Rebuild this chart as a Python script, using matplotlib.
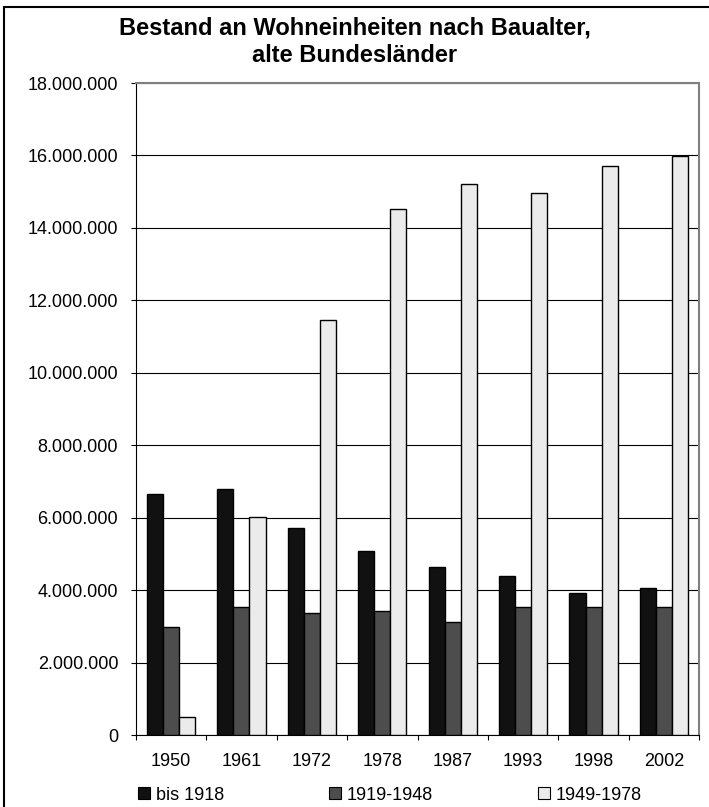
import matplotlib.pyplot as plt
import numpy as np
from matplotlib.patches import Patch, Rectangle
from matplotlib.ticker import FuncFormatter, MultipleLocator

plt.rcParams['font.family'] = ['Liberation Sans', 'DejaVu Sans']

# Wohneinheiten je Zähljahr, getrennt nach Baualter
jahre = ['1950', '1961', '1972', '1978', '1987', '1993', '1998', '2002']
bis_1918 = [6640000, 6780000, 5710000, 5080000, 4640000, 4400000, 3920000, 4060000]
von_1919_1948 = [2980000, 3520000, 3370000, 3420000, 3120000, 3520000, 3520000, 3520000]
von_1949_1978 = [500000, 6010000, 11460000, 14520000, 15210000, 14970000, 15700000, 15990000]
reihen = ['bis 1918', '1919-1948', '1949-1978']
farben = ['#111111', '#4d4d4d', '#ebebeb']

W, H = 709, 807
fig = plt.figure(figsize=(W / 100, H / 100), dpi=100)
ax = fig.add_axes([135.7 / W, 72 / H, 563.6 / W, 652 / H])

x = np.arange(len(jahre))
b = 0.229
for i, (werte, name, farbe) in enumerate(zip([bis_1918, von_1919_1948, von_1949_1978], reihen, farben)):
    ax.bar(x + (i - 1) * b, werte, width=b, color=farbe, edgecolor='black',
           linewidth=1.0, label=name, zorder=3)

ax.set_xlim(-0.5, len(jahre) - 0.5)
ax.set_ylim(0, 18000000)
ax.yaxis.set_major_locator(MultipleLocator(2000000))
ax.yaxis.set_major_formatter(FuncFormatter(lambda v, p: f'{int(v):,}'.replace(',', '.')))
ax.grid(axis='y', color='black', linewidth=0.8, zorder=0)

# Ticks an den Kategoriegrenzen, Beschriftung in der Mitte
ax.set_xticks(np.arange(len(jahre) + 1) - 0.5)
ax.set_xticklabels([])
ax.set_xticks(x, minor=True)
ax.set_xticklabels(jahre, minor=True, fontsize=13)
ax.tick_params(axis='x', which='minor', length=0, pad=13)
ax.tick_params(axis='x', which='major', length=3.6, width=0.8, direction='out')
ax.tick_params(axis='y', length=3.6, width=0.8, labelsize=13, pad=9)

for s in ['top', 'right']:
    ax.spines[s].set_color('#808080')
    ax.spines[s].set_linewidth(1.5)
for s in ['left', 'bottom']:
    ax.spines[s].set_color('black')
    ax.spines[s].set_linewidth(0.8)

fig.text(355 / W, 1 - 35 / H, 'Bestand an Wohneinheiten nach Baualter,',
         ha='center', va='baseline', fontsize=17, fontweight='bold')
fig.text(355 / W, 1 - 62 / H, 'alte Bundesländer',
         ha='center', va='baseline', fontsize=17, fontweight='bold')

handles = [Patch(facecolor=f, edgecolor='black', linewidth=0.8) for f in farben]
fig.legend(handles, reihen, loc='center left', bbox_to_anchor=(138 / W, 12 / H), ncol=3,
           frameon=False, fontsize=13, handlelength=0.65, handleheight=0.65,
           handletextpad=0.35, columnspacing=5.8, borderaxespad=0, borderpad=0)

# Rahmen um das Diagramm
fig.patches.append(Rectangle((4 / W, -0.1), 1.2, 1.1 - 7 / H, transform=fig.transFigure,
                             fill=False, edgecolor='black', linewidth=1.5))

fig.savefig('out.png', dpi=100)
